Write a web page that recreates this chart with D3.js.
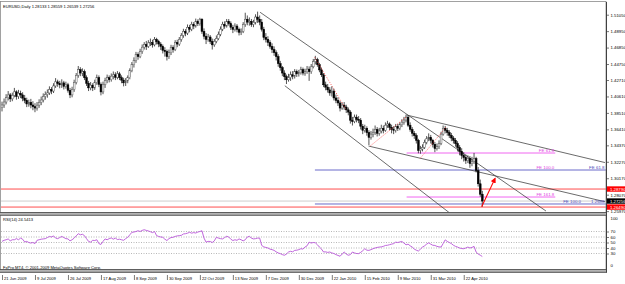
<!DOCTYPE html>
<html>
<head>
<meta charset="utf-8">
<script src="https://d3js.org/d3.v7.min.js"></script>
<style>
  body { margin: 0; background: #fff; }
  svg { display: block; font-family: "Liberation Sans", Arial, sans-serif; }
</style>
</head>
<body>
<svg id="drawing_region"></svg>
<script>
// ---- data ----
const symbol = "EURUSD,Daily";
const lastBar = { open: 1.28133, high: 1.28559, low: 1.26539, close: 1.27256 };
const firstOpen = 1.3920;

const closes = [
  1.3952, 1.3990, 1.4045, 1.4081, 1.4030, 1.4075, 1.4120, 1.4060, 1.4102, 1.4081,
  1.4040, 1.4010, 1.3965, 1.3985, 1.3952, 1.3930, 1.3913, 1.3950, 1.3985, 1.4016,
  1.4060, 1.4085, 1.4106, 1.4150, 1.4130, 1.4195, 1.4248, 1.4225, 1.4210, 1.4235,
  1.4190, 1.4210, 1.4140, 1.4081, 1.4150, 1.4240, 1.4330, 1.4403, 1.4360, 1.4377,
  1.4300, 1.4230, 1.4171, 1.4205, 1.4171, 1.4240, 1.4300, 1.4215, 1.4119, 1.4210,
  1.4265, 1.4300, 1.4275, 1.4320, 1.4338, 1.4305, 1.4350, 1.4300, 1.4270, 1.4235,
  1.4260, 1.4300, 1.4390, 1.4467, 1.4520, 1.4596, 1.4570, 1.4635, 1.4690, 1.4725,
  1.4700, 1.4745, 1.4751, 1.4720, 1.4789, 1.4760, 1.4730, 1.4699, 1.4650, 1.4635,
  1.4570, 1.4620, 1.4686, 1.4660, 1.4751, 1.4730, 1.4789, 1.4840, 1.4892, 1.4870,
  1.4944, 1.4920, 1.4983, 1.4960, 1.5021, 1.4990, 1.5047, 1.4892, 1.4830, 1.4789,
  1.4820, 1.4764, 1.4720, 1.4764, 1.4800, 1.4854, 1.4920, 1.4983, 1.4960, 1.5021,
  1.4990, 1.4944, 1.4918, 1.4960, 1.4918, 1.4880, 1.4892, 1.4980, 1.5047, 1.5010,
  1.5021, 1.4980, 1.5008, 1.5075, 1.5047, 1.5010, 1.4918, 1.4815, 1.4790, 1.4751,
  1.4700, 1.4660, 1.4620, 1.4570, 1.4480, 1.4429, 1.4360, 1.4313, 1.4274, 1.4300,
  1.4338, 1.4320, 1.4377, 1.4350, 1.4364, 1.4403, 1.4360, 1.4377, 1.4410, 1.4377,
  1.4440, 1.4506, 1.4530, 1.4467, 1.4400, 1.4338, 1.4210, 1.4180, 1.4145, 1.4106,
  1.4130, 1.4042, 1.4010, 1.3978, 1.3913, 1.3950, 1.3926, 1.3890, 1.3861, 1.3758,
  1.3740, 1.3797, 1.3770, 1.3758, 1.3680, 1.3629, 1.3655, 1.3600, 1.3539, 1.3580,
  1.3604, 1.3640, 1.3591, 1.3620, 1.3655, 1.3630, 1.3694, 1.3710, 1.3668, 1.3640,
  1.3629, 1.3680, 1.3655, 1.3700, 1.3733, 1.3760, 1.3797, 1.3694, 1.3640, 1.3591,
  1.3560, 1.3501, 1.3372, 1.3390, 1.3410, 1.3475, 1.3520, 1.3539, 1.3501, 1.3450,
  1.3397, 1.3420, 1.3462, 1.3580, 1.3655, 1.3629, 1.3600, 1.3565, 1.3530, 1.3501,
  1.3460, 1.3410, 1.3360, 1.3307, 1.3280, 1.3243, 1.3270, 1.3204, 1.3230, 1.3268,
  1.3114, 1.2946, 1.2813, 1.27256
];

const highs = [
  1.3995, 1.4035, 1.4090, 1.4130, 1.4105, 1.4110, 1.4170, 1.4140, 1.4145, 1.4135,
  1.4115, 1.4080, 1.4045, 1.4020, 1.4030, 1.4000, 1.3975, 1.3990, 1.4025, 1.4060,
  1.4100, 1.4125, 1.4150, 1.4190, 1.4180, 1.4230, 1.4295, 1.4275, 1.4260, 1.4280,
  1.4260, 1.4250, 1.4235, 1.4170, 1.4185, 1.4275, 1.4360, 1.4450, 1.4435, 1.4420,
  1.4405, 1.4330, 1.4260, 1.4245, 1.4230, 1.4275, 1.4340, 1.4330, 1.4240, 1.4250,
  1.4300, 1.4340, 1.4330, 1.4355, 1.4380, 1.4370, 1.4385, 1.4375, 1.4330, 1.4300,
  1.4295, 1.4330, 1.4420, 1.4500, 1.4560, 1.4630, 1.4625, 1.4670, 1.4725, 1.4755,
  1.4770, 1.4780, 1.4800, 1.4785, 1.4820, 1.4810, 1.4785, 1.4755, 1.4725, 1.4690,
  1.4660, 1.4660, 1.4720, 1.4715, 1.4780, 1.4785, 1.4820, 1.4870, 1.4925, 1.4920,
  1.4980, 1.4975, 1.5015, 1.5010, 1.5055, 1.5045, 1.5065, 1.5060, 1.4930, 1.4870,
  1.4860, 1.4845, 1.4800, 1.4795, 1.4840, 1.4890, 1.4955, 1.5015, 1.5020, 1.5050,
  1.5050, 1.5020, 1.4975, 1.4995, 1.4985, 1.4940, 1.4930, 1.5010, 1.5130, 1.5095,
  1.5070, 1.5050, 1.5040, 1.5110, 1.5144, 1.5095, 1.5050, 1.4950, 1.4870, 1.4830,
  1.4780, 1.4740, 1.4700, 1.4650, 1.4600, 1.4515, 1.4450, 1.4395, 1.4340, 1.4350,
  1.4380, 1.4385, 1.4410, 1.4405, 1.4400, 1.4440, 1.4430, 1.4415, 1.4450, 1.4445,
  1.4475, 1.4540, 1.4580, 1.4555, 1.4490, 1.4430, 1.4360, 1.4250, 1.4220, 1.4180,
  1.4190, 1.4160, 1.4085, 1.4050, 1.4005, 1.3985, 1.3990, 1.3955, 1.3920, 1.3885,
  1.3800, 1.3830, 1.3830, 1.3810, 1.3785, 1.3710, 1.3700, 1.3680, 1.3630, 1.3620,
  1.3650, 1.3690, 1.3670, 1.3660, 1.3700, 1.3690, 1.3730, 1.3750, 1.3730, 1.3700,
  1.3680, 1.3710, 1.3710, 1.3730, 1.3770, 1.3800, 1.3830, 1.3815, 1.3730, 1.3670,
  1.3620, 1.3590, 1.3520, 1.3430, 1.3450, 1.3510, 1.3555, 1.3590, 1.3570, 1.3520,
  1.3480, 1.3460, 1.3500, 1.3610, 1.3690, 1.3685, 1.3660, 1.3630, 1.3595, 1.3555,
  1.3530, 1.3490, 1.3440, 1.3400, 1.3350, 1.3320, 1.3310, 1.3300, 1.3290, 1.3340,
  1.3290, 1.3160, 1.3000, 1.28559
];

const lows = [
  1.3870, 1.3915, 1.3960, 1.4010, 1.3990, 1.4000, 1.4050, 1.4020, 1.4030, 1.4040,
  1.4000, 1.3975, 1.3925, 1.3930, 1.3910, 1.3885, 1.3860, 1.3880, 1.3915, 1.3950,
  1.3985, 1.4020, 1.4045, 1.4080, 1.4090, 1.4105, 1.4170, 1.4185, 1.4165, 1.4170,
  1.4150, 1.4160, 1.4110, 1.4040, 1.4050, 1.4120, 1.4215, 1.4300, 1.4320, 1.4320,
  1.4270, 1.4195, 1.4130, 1.4140, 1.4130, 1.4145, 1.4210, 1.4180, 1.4075, 1.4090,
  1.4170, 1.4230, 1.4240, 1.4250, 1.4280, 1.4270, 1.4280, 1.4270, 1.4230, 1.4190,
  1.4195, 1.4230, 1.4280, 1.4370, 1.4430, 1.4490, 1.4530, 1.4550, 1.4605, 1.4660,
  1.4655, 1.4680, 1.4705, 1.4685, 1.4700, 1.4725, 1.4690, 1.4655, 1.4610, 1.4570,
  1.4520, 1.4540, 1.4590, 1.4620, 1.4640, 1.4690, 1.4705, 1.4760, 1.4810, 1.4830,
  1.4845, 1.4880, 1.4895, 1.4920, 1.4940, 1.4960, 1.4965, 1.4860, 1.4790, 1.4730,
  1.4760, 1.4730, 1.4660, 1.4695, 1.4740, 1.4780, 1.4830, 1.4895, 1.4925, 1.4940,
  1.4965, 1.4910, 1.4870, 1.4890, 1.4880, 1.4840, 1.4845, 1.4870, 1.4950, 1.4970,
  1.4965, 1.4950, 1.4945, 1.4980, 1.5000, 1.4970, 1.4890, 1.4780, 1.4750, 1.4705,
  1.4670, 1.4615, 1.4580, 1.4520, 1.4440, 1.4390, 1.4320, 1.4270, 1.4220, 1.4250,
  1.4260, 1.4280, 1.4290, 1.4310, 1.4315, 1.4340, 1.4330, 1.4325, 1.4350, 1.4260,
  1.4350, 1.4420, 1.4470, 1.4440, 1.4370, 1.4310, 1.4180, 1.4140, 1.4110, 1.4070,
  1.4060, 1.4010, 1.3975, 1.3940, 1.3870, 1.3890, 1.3890, 1.3850, 1.3820, 1.3715,
  1.3690, 1.3720, 1.3730, 1.3720, 1.3640, 1.3580, 1.3600, 1.3560, 1.3440, 1.3510,
  1.3540, 1.3570, 1.3550, 1.3560, 1.3590, 1.3590, 1.3610, 1.3660, 1.3630, 1.3590,
  1.3580, 1.3600, 1.3620, 1.3630, 1.3670, 1.3700, 1.3730, 1.3670, 1.3610, 1.3550,
  1.3520, 1.3460, 1.3335, 1.3330, 1.3360, 1.3390, 1.3450, 1.3490, 1.3460, 1.3410,
  1.3350, 1.3370, 1.3390, 1.3440, 1.3560, 1.3590, 1.3560, 1.3530, 1.3490, 1.3460,
  1.3420, 1.3360, 1.3310, 1.3260, 1.3230, 1.3200, 1.3210, 1.3150, 1.3170, 1.3200,
  1.3090, 1.2910, 1.2780, 1.26539
];

const rsiValues = [
  52, 54, 55, 56.5, 53, 55, 55, 57, 55, 58,
  56, 51, 52, 50, 49, 50, 48, 54, 55, 56,
  56.5, 57, 59, 61, 60, 62, 58, 57, 59, 61,
  59, 57, 56.5, 53, 55, 58, 62, 66, 64, 65,
  62.5, 57, 52, 50.6, 54, 53.6, 55, 48, 46.4, 52,
  56.5, 55, 57, 58.3, 56, 58, 55.4, 56, 55, 54,
  57, 59.5, 64, 68.5, 69, 70, 71.4, 70, 72, 73.2,
  72, 71, 69.6, 68, 70, 62.5, 61, 60, 59.5, 56,
  53.6, 57, 59, 59.5, 61, 62, 62.5, 63, 65.5, 66,
  67, 68.5, 67, 68, 67.2, 69, 70, 71.4, 58, 50.6,
  52, 51.8, 50, 53, 59.5, 58, 57, 56.5, 59, 61.3,
  60, 56, 53.6, 55, 54, 56.5, 55, 53, 55, 60,
  61.3, 58, 56.5, 57, 58, 58, 44.6, 42, 41, 40,
  38, 37, 35.7, 33, 31, 29.8, 28, 26.8, 29, 32.7,
  34, 33, 35.7, 36, 37, 38.7, 38, 41.7, 44, 50.6,
  49, 50, 49.5, 46, 41.7, 38, 32.7, 33, 32, 32.7,
  31, 30, 28, 26.5, 25, 29, 32.7, 29, 26.8, 28,
  32.7, 31, 30, 29.8, 32, 35, 38.7, 36, 35.7, 37,
  38.7, 40, 41, 41.7, 42, 43, 44.6, 45, 46, 47,
  48, 50.6, 50, 51, 51.8, 49, 45.8, 47, 44, 41.7,
  38, 36, 34.5, 38, 41.7, 44, 47, 49.4, 47, 45,
  44.6, 43, 42, 41.7, 48, 54.8, 52, 50, 48, 45,
  43, 41.7, 40, 39, 38.7, 40, 41.7, 40, 41, 43,
  32.7, 29, 27, 24.5413
];
const rsiNow = 24.5413;

const dateLabels = [
  "21 Jun 2009", "9 Jul 2009", "26 Jul 2009", "17 Aug 2009", "8 Sep 2009",
  "30 Sep 2009", "22 Oct 2009", "13 Nov 2009", "7 Dec 2009", "30 Dec 2009",
  "22 Jan 2010", "15 Feb 2010", "9 Mar 2010", "31 Mar 2010", "22 Apr 2010"
];
const barsPerLabel = 16;

const priceTicks = [1.51050, 1.48950, 1.46850, 1.44750, 1.42710, 1.40610,
  1.38510, 1.36410, 1.34370, 1.32270, 1.30170, 1.28070, 1.25970];
const rsiLevels = [70, 60, 50, 40, 30];

// trend lines: [bar index, price] pairs
const trendLines = [
  [[125.2, 1.5136], [263.9, 1.2598]],
  [[137.2, 1.4198], [217.4, 1.2569]],
  [[196.3, 1.3824], [292.5, 1.3217]],
  [[177.8, 1.3428], [292.5, 1.2717]]
];
const swingLines = [
  [[151.7, 1.4560], [166.8, 1.3900]],
  [[178.8, 1.3432], [196.2, 1.3802]],
  [[202.9, 1.3271], [215.5, 1.3675]]
];
const redLevels = [1.2879, 1.2649];
const feBlue = { start: 151.8, prices: [1.3122, 1.2688], names: ["FE 61.8", "FE 100.0"] };
const fePink = { start: 196.3, end: 268.4, prices: [1.3339, 1.3122, 1.2777], names: ["FE 61.8", "FE 100.0", "FE 161.8"] };
const arrowPts = [[232.7, 1.2653], [239.2, 1.3015]];

// ---- chart ----
class MT4Chart {

    constructor( config ) {
        this.config = config;
        this.bars = closes.map( (c, i) => {
            const o = i == 0 ? firstOpen : closes[i-1];
            return { i: i, open: o, close: c,
                     high: Math.max(highs[i], o, c), low: Math.min(lows[i], o, c) };
        });
        this.bars[this.bars.length-1].open = lastBar.open;
        this.init();
    }

    init() {
        let self = this;
        const c = self.config;

        self.svg = d3.select( c.parent )
            .attr('width', c.width)
            .attr('height', c.height);

        self.xscale = d3.scaleLinear()
            .domain( [0, 293.5] )
            .range( [2, c.right + 1] );

        self.yscale = d3.scaleLinear()
            .domain( [1.2573, 1.5267] )
            .range( [c.mainBottom, c.top] );

        self.rscale = d3.scaleLinear()
            .domain( [0, 100] )
            .range( [c.rsiBottom, c.rsiTop] );

        const defs = self.svg.append('defs');
        defs.append('clipPath').attr('id', 'clip-main')
            .append('rect')
            .attr('x', 1).attr('y', c.top)
            .attr('width', c.right - 1).attr('height', c.mainBottom - c.top - 0.5);
        defs.append('clipPath').attr('id', 'clip-rsi')
            .append('rect')
            .attr('x', 1).attr('y', c.rsiTop)
            .attr('width', c.right - 1).attr('height', c.rsiBottom - c.rsiTop);
        defs.append('marker').attr('id', 'arrowhead')
            .attr('viewBox', '0 0 10 10').attr('refX', 8).attr('refY', 5)
            .attr('markerWidth', 5).attr('markerHeight', 5)
            .attr('orient', 'auto')
            .append('path').attr('d', 'M0,0 L10,5 L0,10 z').attr('fill', '#ff0000');

        self.main = self.svg.append('g').attr('clip-path', 'url(#clip-main)');
        self.rsi = self.svg.append('g').attr('clip-path', 'url(#clip-rsi)');
    }

    render() {
        let self = this;
        const c = self.config;
        const x = self.xscale, y = self.yscale, r = self.rscale;

        // horizontal levels
        self.main.selectAll('.red-level')
            .data(redLevels).join('line')
            .attr('x1', 1).attr('x2', c.right)
            .attr('y1', d => y(d)).attr('y2', d => y(d))
            .attr('stroke', '#ff2020').attr('stroke-width', 0.8);

        self.main.append('line')
            .attr('x1', 1).attr('x2', c.right)
            .attr('y1', y(lastBar.close)).attr('y2', y(lastBar.close))
            .attr('stroke', '#c8c8c8').attr('stroke-width', 0.9);

        self.main.selectAll('.fe-blue')
            .data(feBlue.prices).join('line')
            .attr('x1', x(feBlue.start)).attr('x2', c.right)
            .attr('y1', d => y(d)).attr('y2', d => y(d))
            .attr('stroke', '#5a5ac4').attr('stroke-width', 0.9);

        self.main.selectAll('.fe-pink')
            .data([fePink.prices[0], fePink.prices[2]]).join('line')
            .attr('x1', x(fePink.start)).attr('x2', x(fePink.end))
            .attr('y1', d => y(d)).attr('y2', d => y(d))
            .attr('stroke', '#ee55ee').attr('stroke-width', 0.9);

        // trend lines
        const seg = d3.line().x( d => x(d[0]) ).y( d => y(d[1]) );
        self.main.selectAll('.trend')
            .data(trendLines).join('path')
            .attr('d', seg)
            .attr('fill', 'none').attr('stroke', '#3a3a3a').attr('stroke-width', 0.75);

        // candles
        const bw = 1.8;
        const candles = self.main.append('g');
        candles.selectAll('line')
            .data(self.bars).join('line')
            .attr('x1', d => x(d.i)).attr('x2', d => x(d.i))
            .attr('y1', d => y(d.high)).attr('y2', d => y(d.low))
            .attr('stroke', '#1a1a1a').attr('stroke-width', 0.75);
        candles.selectAll('rect')
            .data(self.bars).join('rect')
            .attr('x', d => x(d.i) - bw/2)
            .attr('y', d => y(Math.max(d.open, d.close)))
            .attr('width', bw)
            .attr('height', d => Math.max(0.6, Math.abs(y(d.open) - y(d.close))))
            .attr('fill', d => d.close >= d.open ? '#ffffff' : '#000000')
            .attr('stroke', d => d.close >= d.open ? '#555' : '#000')
            .attr('stroke-width', 0.5);

        self.main.selectAll('.swing')
            .data(swingLines).join('path')
            .attr('d', seg)
            .attr('fill', 'none').attr('stroke', '#ff3030').attr('stroke-width', 0.8)
            .attr('stroke-dasharray', '1,1.6');

        // arrow
        self.main.append('path')
            .attr('d', seg(arrowPts))
            .attr('stroke', '#ff0000').attr('stroke-width', 1.1)
            .attr('marker-end', 'url(#arrowhead)');

        // FE labels
        const fs = 4.4;
        self.svg.selectAll('.lab-blue')
            .data(feBlue.prices).join('text')
            .attr('x', (d, k) => k == 0 ? c.right - 1.5 : 581)
            .attr('y', d => y(d) - 1)
            .attr('text-anchor', 'end')
            .attr('font-size', fs).attr('fill', '#4a4ab8')
            .text( (d, k) => feBlue.names[k] );
        self.svg.append('text')
            .attr('x', c.right - 1.5).attr('y', y(feBlue.prices[1]) - 1)
            .attr('text-anchor', 'end')
            .attr('font-size', fs).attr('fill', '#4a4ab8')
            .text(d3.format('.4f')(feBlue.prices[1]));
        self.svg.selectAll('.lab-pink')
            .data(fePink.prices).join('text')
            .attr('x', x(fePink.end) - 1)
            .attr('y', d => y(d) - 1)
            .attr('text-anchor', 'end')
            .attr('font-size', fs).attr('fill', '#e040e0')
            .text( (d, k) => fePink.names[k] );

        // header
        self.svg.append('text')
            .attr('x', 3).attr('y', 7.5)
            .attr('font-size', 4.1).attr('fill', '#000')
            .text(`${symbol}  ${lastBar.open.toFixed(5)} ${lastBar.high.toFixed(5)} ${lastBar.low.toFixed(5)} ${lastBar.close.toFixed(5)}`);

        // RSI panel
        self.rsi.selectAll('.lvl')
            .data(rsiLevels).join('line')
            .attr('x1', 1).attr('x2', c.right)
            .attr('y1', d => r(d)).attr('y2', d => r(d))
            .attr('stroke', '#9a9a9a').attr('stroke-width', 0.7)
            .attr('stroke-dasharray', '1,1.5');

        const rline = d3.line()
            .x( (d, i) => x(i) )
            .y( d => r(d) );
        self.rsi.append('path')
            .attr('d', rline(rsiValues))
            .attr('fill', 'none').attr('stroke', '#b855d8').attr('stroke-width', 0.9);

        self.svg.append('text')
            .attr('x', 3).attr('y', c.rsiTop + 6)
            .attr('font-size', 4.1).attr('fill', '#000')
            .text(`RSI(14) ${rsiNow}`);
        self.svg.append('text')
            .attr('x', 3).attr('y', c.rsiBottom - 1.2)
            .attr('font-size', 4.1).attr('fill', '#000')
            .text('FxPro MT4, \u00a9 2001-2009 MetaQuotes Software Corp.');

        // frame
        self.svg.append('rect')
            .attr('x', 0.5).attr('y', 1.5)
            .attr('width', c.right - 0.5).attr('height', c.rsiBottom + 2 - 1.5)
            .attr('fill', 'none').attr('stroke', '#8a8a8a').attr('stroke-width', 0.8);
        [c.mainBottom, c.rsiBottom].forEach( yy => {
            self.svg.append('rect')
                .attr('x', 0).attr('y', yy - 0.5)
                .attr('width', c.right + 1).attr('height', 2.8)
                .attr('fill', '#b4b4b4');
            self.svg.append('line')
                .attr('x1', 0).attr('x2', c.right + 1).attr('y1', yy - 0.5).attr('y2', yy - 0.5)
                .attr('stroke', '#505050').attr('stroke-width', 0.9);
            self.svg.append('line')
                .attr('x1', 0).attr('x2', c.right + 1).attr('y1', yy + 2.3).attr('y2', yy + 2.3)
                .attr('stroke', '#505050').attr('stroke-width', 0.9);
        });

        // price axis
        const yaxis = d3.axisRight( y )
            .tickValues( priceTicks )
            .tickFormat( d3.format('.5f') )
            .tickSize(2.5).tickPadding(1.5).tickSizeOuter(0);
        const yg = self.svg.append('g')
            .attr('transform', `translate(${c.right + 0.5}, 0)`)
            .call( yaxis );
        yg.select('.domain').attr('stroke', '#404040').attr('d', `M0,${c.top}V${c.rsiBottom + 2.5}`);
        yg.selectAll('.tick line').attr('stroke', '#404040').attr('stroke-width', 0.7);
        yg.selectAll('.tick text').attr('font-size', 4.3).attr('font-family', 'Liberation Sans, Arial').attr('fill', '#000');

        // marked prices on the axis
        const marks = [
            { p: redLevels[0], fill: '#ff0000' },
            { p: lastBar.close, fill: '#000000' },
            { p: redLevels[1], fill: '#ff0000' }
        ];
        const mg = self.svg.append('g');
        mg.selectAll('rect').data(marks).join('rect')
            .attr('x', c.right + 1).attr('y', d => y(d.p) - 2.7)
            .attr('width', 19).attr('height', 5.4)
            .attr('fill', d => d.fill);
        mg.selectAll('text').data(marks).join('text')
            .attr('x', c.right + 4).attr('y', d => y(d.p) + 1.5)
            .attr('font-size', 4.3).attr('fill', '#fff')
            .text( d => d.p.toFixed(5) );

        // RSI axis
        const raxis = d3.axisRight( r )
            .tickValues( rsiLevels )
            .tickSize(2.5).tickPadding(1.5).tickSizeOuter(0);
        const rg = self.svg.append('g')
            .attr('transform', `translate(${c.right + 0.5}, 0)`)
            .call( raxis );
        rg.select('.domain').remove();
        rg.selectAll('.tick line').attr('stroke', '#404040').attr('stroke-width', 0.7);
        rg.selectAll('.tick text').attr('font-size', 4.3).attr('font-family', 'Liberation Sans, Arial').attr('fill', '#000');
        [[100, r(100) + 4.5], [0, r(0) - 3]].forEach( d => {
            self.svg.append('text')
                .attr('x', c.right + 4.5).attr('y', d[1])
                .attr('font-size', 4.3).attr('fill', '#000')
                .text(d[0]);
        });

        // date axis
        const xaxis = d3.axisBottom( x )
            .tickValues( dateLabels.map( (d, k) => k * barsPerLabel ) )
            .tickFormat( (d, k) => dateLabels[k] )
            .tickSize(5).tickPadding(-3).tickSizeOuter(0);
        const xg = self.svg.append('g')
            .attr('transform', `translate(0, ${c.rsiBottom + 5})`)
            .call( xaxis );
        xg.select('.domain').remove();
        xg.selectAll('.tick line').attr('stroke', '#404040').attr('stroke-width', 0.7);
        xg.selectAll('.tick text')
            .attr('text-anchor', 'start').attr('x', 1.5)
            .attr('font-size', 4.1).attr('font-family', 'Liberation Sans, Arial').attr('fill', '#000');
    }
}

const chart = new MT4Chart({
    parent: '#drawing_region',
    width: 625,
    height: 284,
    top: 2,
    right: 606,
    mainBottom: 213,
    rsiTop: 215,
    rsiBottom: 270
});
chart.render();
</script>
</body>
</html>
